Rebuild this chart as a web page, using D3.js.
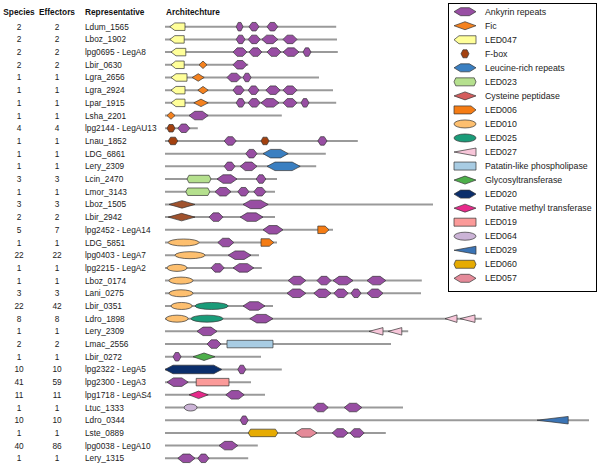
<!DOCTYPE html>
<html><head><meta charset="utf-8">
<script src="https://cdn.jsdelivr.net/npm/d3@7"></script>
<style>body{margin:0;background:#fff}svg{display:block}text{font-family:"Liberation Sans",Arial,sans-serif}</style>
</head><body><svg id="c" width="600" height="465"></svg>
<script>
const species = [2,2,2,2,1,1,1,1,4,1,1,1,3,1,3,2,5,1,22,1,1,3,22,8,1,2,1,10,41,11,1,10,1,40,1];
const effectors = [2,2,2,2,1,1,1,1,4,1,1,1,3,1,3,2,7,1,22,1,1,3,42,8,1,2,1,10,59,11,1,10,1,86,1];
const representatives = ["Ldum_1565","Lboz_1902","lpg0695 - LegA8","Lbir_0630","Lgra_2656","Lgra_2924","Lpar_1915","Lsha_2201","lpg2144 - LegAU13","Lnau_1852","LDG_6861","Lery_2309","Lcin_2470","Lmor_3143","Lboz_1505","Lbir_2942","lpg2452 - LegA14","LDG_5851","lpg0403 - LegA7","lpg2215 - LegA2","Lboz_0174","Lani_0275","Lbir_0351","Ldro_1898","Lery_2309","Lmac_2556","Lbir_0272","lpg2322 - LegA5","lpg2300 - LegA3","lpg1718 - LegAS4","Ltuc_1333","Ldro_0344","Lste_0889","lpg0038 - LegA10","Lery_1315"];
const lengths = [428,430,432,208,385,420,428,292,82,482,402,378,280,275,670,275,420,280,235,242,642,640,270,792,608,565,240,292,215,250,595,1060,552,232,208];
const headers = ["Species","Effectors","Representative","Architechture"];
const legendLabels = ["Ankyrin repeats","Fic","LED047","F-box","Leucine-rich repeats","LED023","Cysteine peptidase","LED006","LED010","LED025","LED027","Patatin-like phospholipase","Glycosyltransferase","LED020","Putative methyl transferase","LED019","LED064","LED029","LED060","LED057"];
const legendColors = ["#984ea3","#f5821f","#ffff99","#a3410f","#3a7fc1","#b5e08e","#d45d5d","#f57c14","#fdbf6f","#1a9c79","#f7c6d9","#a8cce3","#4daf4a","#0b2e6b","#e7298a","#fb9a99","#cbb3d6","#3b74b5","#e6ab02","#e58a99"];
const legendShapes = ["hex","diamond","pentL","fbox","hex","flathex","diamond","pentR","ellipse","ellipse","triL","rect","diamond","hex","diamond","rect","ellipse","triL","flathex","hex"];
// Domains per row: [type, start, end]
const A="Ankyrin repeats", F="Fic", L47="LED047", FB="F-box", LRR="Leucine-rich repeats", L23="LED023", CYS="Cysteine peptidase*", L06="LED006", L10="LED010", L25="LED025", L27="LED027", PAT="Patatin-like phospholipase", GLY="Glycosyltransferase", L20="LED020", PMT="Putative methyl transferase", L19="LED019", L64="LED064", L29="LED029", L60="LED060", L57="LED057";
const domains = [
 [[L47,12,50],[A,178,195],[A,210,235],[A,255,282]],
 [[L47,12,48],[A,178,200],[A,208,238],[A,242,282],[A,295,330]],
 [[L47,15,52],[A,170,205],[A,210,242],[A,255,290],[A,295,335],[A,345,365]],
 [[L47,15,48],[F,85,105],[A,170,205]],
 [[L47,15,55],[F,68,98],[A,155,190],[A,195,215]],
 [[L47,15,50],[F,82,108],[A,170,198],[A,208,235],[A,252,288],[A,295,330]],
 [[L47,15,50],[F,72,108],[A,178,200],[A,208,238],[A,240,285],[A,295,330],[A,340,360]],
 [[F,5,25],[A,60,108]],
 [[FB,5,25],[A,32,62]],
 [[FB,8,32],[A,148,178],[FB,240,260],[A,382,405]],
 [[A,202,230],[LRR,245,308]],
 [[A,148,175],[A,188,230],[LRR,255,338]],
 [[L23,55,115],[A,130,180],[A,228,252]],
 [[L23,52,112],[A,125,165],[A,182,210],[A,222,252]],
 [[CYS,10,75],[A,195,258]],
 [[CYS,8,75],[A,110,145],[A,188,245]],
 [[A,245,295],[L06,382,410]],
 [[L10,8,85],[A,132,172],[L06,240,272]],
 [[L10,25,100],[A,158,215]],
 [[L10,5,55],[A,115,148],[A,170,222]],
 [[L10,10,70],[A,308,352],[A,380,415],[A,420,470],[A,505,552]],
 [[L10,10,70],[A,305,352],[A,372,415],[A,422,458],[A,465,490],[A,505,545]],
 [[L10,15,68],[L25,75,158],[A,195,250]],
 [[L10,2,58],[L25,65,145],[A,212,270],[L27,700,730],[L27,738,775]],
 [[A,80,130],[L27,510,545],[L27,558,592]],
 [[A,105,140],[PAT,155,270]],
 [[A,20,40],[GLY,70,125]],
 [[L20,0,142],[A,182,202]],
 [[A,5,58],[L19,78,160]],
 [[PMT,60,108],[A,152,198]],
 [[L64,48,80],[A,370,408],[A,448,492]],
 [[A,188,208],[L29,930,1008]],
 [[L60,208,282],[L57,325,380],[A,418,458],[A,462,498]],
 [[A,135,182]],
 [[A,32,75],[A,82,110]]
];

const styles = {};
legendLabels.forEach((l,i)=>styles[l]={color:legendColors[i],shape:legendShapes[i]});
styles[CYS] = {color:"#a0522d", shape:"diamond"};

const svg = d3.select("#c");
const x = d3.scaleLinear().domain([0,1060]).range([165,589]);
const y = d3.scalePoint().domain(d3.range(representatives.length)).range([26.7,458.3]);

function shapePath(shape, x0, x1, cy, h){
  const w = x1-x0, t = cy-h/2, b = cy+h/2, m=(x0+x1)/2;
  const poly = pts => "M"+pts.map(p=>p.join(",")).join("L")+"Z";
  switch(shape){
    case "hex": { const i=Math.min(w*0.3,8); return poly([[x0,cy],[x0+i,t],[x1-i,t],[x1,cy],[x1-i,b],[x0+i,b]]); }
    case "flathex": { const i=Math.min(w*0.08,2.5); return poly([[x0,cy],[x0+i,t],[x1-i,t],[x1,cy],[x1-i,b],[x0+i,b]]); }
    case "fbox": { const i=Math.min(w*0.25,2.5); return poly([[x0,cy],[x0+i,t],[x1-i,t],[x1,cy],[x1-i,b],[x0+i,b]]); }
    case "diamond": return poly([[x0,cy],[m,t],[x1,cy],[m,b]]);
    case "pentL": { const i=Math.min(w*0.35,5); return poly([[x0,cy],[x0+i,t],[x1,t],[x1,b],[x0+i,b]]); }
    case "pentR": { const i=Math.min(w*0.35,5); return poly([[x0,t],[x1-i,t],[x1,cy],[x1-i,b],[x0,b]]); }
    case "triL": return poly([[x0,cy],[x1,t],[x1,b]]);
    case "rect": return poly([[x0,t],[x1,t],[x1,b],[x0,b]]);
    case "ellipse": { const rx=w/2, ry=h/2; return `M${x0},${cy}A${rx},${ry} 0 1,0 ${x1},${cy}A${rx},${ry} 0 1,0 ${x0},${cy}Z`; }
  }
}
const heightOf = s => s==="hex"?8.5:(s==="ellipse"?7:7.5);

// headers
const hy = 15;
const hdr = svg.append("g").attr("font-size","8.3px").attr("font-weight","bold").attr("fill","#111");
hdr.append("text").attr("x",19).attr("y",hy).attr("text-anchor","middle").text(headers[0]);
hdr.append("text").attr("x",57).attr("y",hy).attr("text-anchor","middle").text(headers[1]);
hdr.append("text").attr("x",85).attr("y",hy).text(headers[2]);
hdr.append("text").attr("x",166).attr("y",hy).text(headers[3]);

// rows
const rows = svg.append("g").selectAll("g").data(representatives).join("g");
rows.append("text").attr("x",19).attr("y",(d,i)=>y(i)+3).attr("text-anchor","middle").attr("font-size","8.3px").attr("fill","#222").text((d,i)=>species[i]);
rows.append("text").attr("x",57).attr("y",(d,i)=>y(i)+3).attr("text-anchor","middle").attr("font-size","8.3px").attr("fill","#222").text((d,i)=>effectors[i]);
rows.append("text").attr("x",85).attr("y",(d,i)=>y(i)+3).attr("font-size","8.3px").attr("fill","#222").text(d=>d);
rows.append("line").attr("x1",x(0)).attr("x2",(d,i)=>x(lengths[i])).attr("y1",(d,i)=>y(i)).attr("y2",(d,i)=>y(i)).attr("stroke","#9a9a9a").attr("stroke-width",2);
rows.each(function(d,i){
  d3.select(this).selectAll("path").data(domains[i]).join("path")
    .attr("d",dm=>{const s=styles[dm[0]].shape; return shapePath(s,x(dm[1]),x(dm[2]),y(i),heightOf(s));})
    .attr("fill",dm=>styles[dm[0]].color).attr("stroke","#333").attr("stroke-width",0.7);
});

// legend
const lg = svg.append("g");
lg.append("rect").attr("x",448.5).attr("y",3.5).attr("width",148).attr("height",288).attr("fill","#fff").attr("stroke","#000").attr("stroke-width",1);
const ly = d3.scalePoint().domain(d3.range(legendLabels.length)).range([11.7,278.3]);
const li = lg.selectAll("g").data(legendLabels).join("g");
li.append("path").attr("d",(d,i)=>{const s=legendShapes[i]; const w = s==="fbox"?8:22; return shapePath(s,465-w/2,465+w/2,ly(i),8);})
  .attr("fill",(d,i)=>legendColors[i]).attr("stroke","#333").attr("stroke-width",0.7);
li.append("text").attr("x",485).attr("y",(d,i)=>ly(i)+3.1).attr("font-size","8.8px").attr("fill","#222").text(d=>d);
</script></body></html>
